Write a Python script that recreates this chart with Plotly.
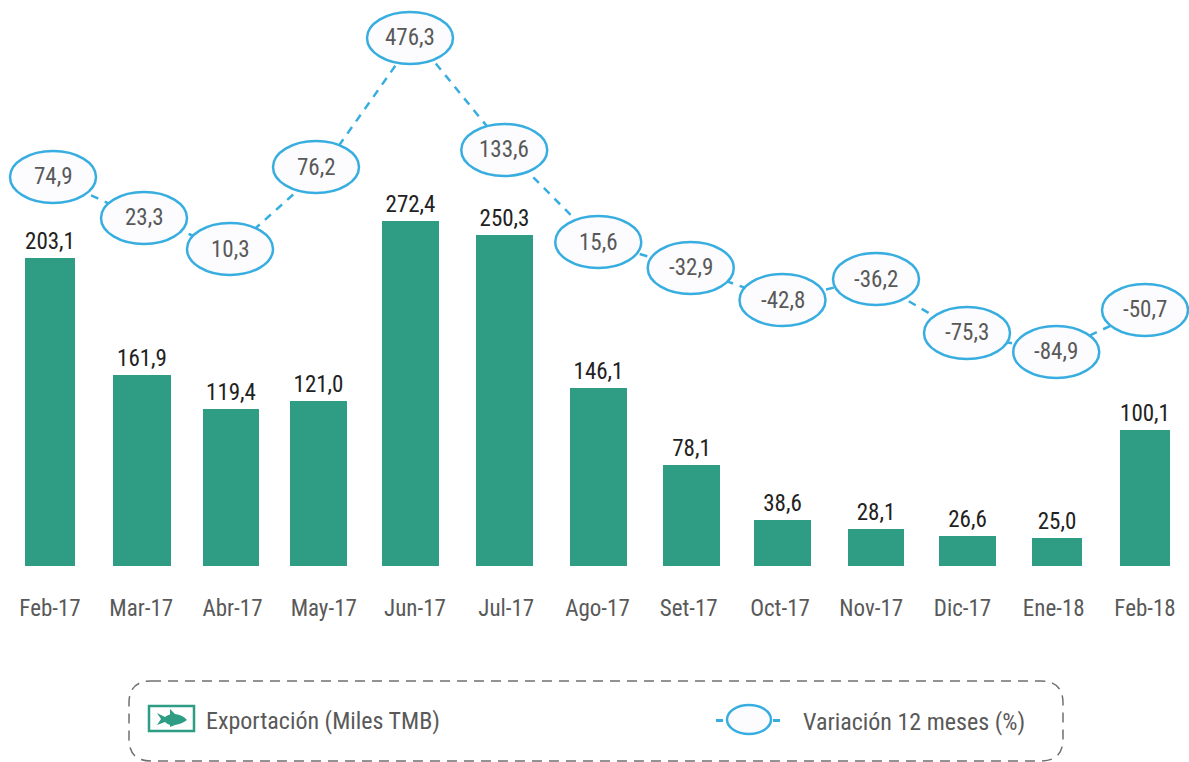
import plotly.graph_objects as go

# Chart data as printed in the picture
categories = ["Feb-17", "Mar-17", "Abr-17", "May-17", "Jun-17", "Jul-17", "Ago-17",
              "Set-17", "Oct-17", "Nov-17", "Dic-17", "Ene-18", "Feb-18"]
export_labels = ["203,1", "161,9", "119,4", "121,0", "272,4", "250,3", "146,1",
                 "78,1", "38,6", "28,1", "26,6", "25,0", "100,1"]
variation_labels = ["74,9", "23,3", "10,3", "76,2", "476,3", "133,6", "15,6",
                    "-32,9", "-42,8", "-36,2", "-75,3", "-84,9", "-50,7"]
# Heights and levels as actually drawn in the picture (the source is not to scale)
export_drawn = [242.5, 150.4, 123.6, 129.9, 271.7, 260.6, 140.2, 79.5, 36.2, 29.1, 23.6, 22.0, 107.1]
variation_drawn = [227.7, 154.5, 99.1, 245.5, 475.9, 275.9, 111.6, 65.2, 8.0, 45.5, -50.9, -84.8, -9.8]

# Styling
W, H = 1189, 762
BASE = 566
PITCH = 91.25
FONT = "Roboto Condensed, Noto Sans Condensed, Open Sans Condensed, Roboto, sans-serif"
GREEN = "#2f9d83"
BLUE = "#38aee0"
GREY = "#595959"
bar_width_px = [50, 58, 56, 57, 57, 57, 57, 57, 57, 56, 57, 50, 50]
bar_nudge_px = [0, 0.75, -1.5, -5.25, -4.5, -1.75, 1, 2.75, 2.5, 4.75, 5, 3.5, -0.0]
oval_nudge_px = [3, 2.75, -2.5, -7.75, -5, -2, 0.75, 2, 2.5, 4.75, 4.5, 2.5, -0.0]
RX, RY = 43, 26

fx = lambda v: v / W
fy = lambda v: 1 - v / H

fig = go.Figure()
fig.add_trace(go.Bar(
    x=categories, y=export_drawn,
    width=[w / PITCH for w in bar_width_px],
    offset=[(nudge - w / 2) / PITCH for w, nudge in zip(bar_width_px, bar_nudge_px)],
    marker=dict(color=GREEN, line=dict(width=0)),
    text=export_labels, textposition="outside", cliponaxis=False,
    textfont=dict(family=FONT, size=23, color="#222222"),
    showlegend=False, hoverinfo="skip",
))
fig.add_trace(go.Scatter(
    x=categories, y=variation_drawn, yaxis="y2", mode="lines",
    line=dict(color=BLUE, width=2.5, dash="8px,7px"),
    showlegend=False, hoverinfo="skip",
))

shapes, annotations = [], []
for cat, lev, lab, nudge in zip(categories, variation_drawn, variation_labels, oval_nudge_px):
    shapes.append(dict(
        type="circle", xref="x", yref="y2", xsizemode="pixel", ysizemode="pixel",
        xanchor=cat, yanchor=lev, x0=nudge - RX, x1=nudge + RX, y0=-RY, y1=RY,
        line=dict(color=BLUE, width=2.5), fillcolor="#fcfcfe", layer="above",
    ))
    annotations.append(dict(
        x=cat, y=lev, xref="x", yref="y2", text=lab, showarrow=False, xshift=nudge,
        font=dict(family=FONT, size=23, color=GREY),
    ))

# Legend frame (rounded dashed box)
x0, x1, y0, y1 = 129, 1063, 681, 761
r = 22
frame = (f"M{fx(x0 + r)},{fy(y0)} L{fx(x1 - r)},{fy(y0)} Q{fx(x1)},{fy(y0)} {fx(x1)},{fy(y0 + r)} "
         f"L{fx(x1)},{fy(y1 - r)} Q{fx(x1)},{fy(y1)} {fx(x1 - r)},{fy(y1)} "
         f"L{fx(x0 + r)},{fy(y1)} Q{fx(x0)},{fy(y1)} {fx(x0)},{fy(y1 - r)} "
         f"L{fx(x0)},{fy(y0 + r)} Q{fx(x0)},{fy(y0)} {fx(x0 + r)},{fy(y0)}")
shapes.append(dict(type="path", xref="paper", yref="paper", path=frame,
                   line=dict(color="#707070", width=1.5, dash="10px,7px")))

# Legend: fish icon
shapes.append(dict(type="rect", xref="paper", yref="paper",
                   x0=fx(149), x1=fx(194), y0=fy(731), y1=fy(706),
                   line=dict(color=GREEN, width=2.5), fillcolor="white"))
def P(x, y):
    return f"{fx(x):.5f},{fy(y):.5f}"
fish = (f"M{P(157, 713)} L{P(165, 717)} Q{P(167, 715)} {P(170, 714.5)} L{P(170, 709)} L{P(175, 714)} "
        f"Q{P(183, 715)} {P(187, 720)} Q{P(182, 724)} {P(175, 725)} L{P(170, 727)} L{P(170, 725)} "
        f"Q{P(167, 724)} {P(165, 722)} L{P(157, 725)} L{P(161, 719)} Z")
shapes.append(dict(type="path", xref="paper", yref="paper", path=fish,
                   line=dict(width=0), fillcolor=GREEN))

# Legend: oval symbol
shapes.append(dict(type="circle", xref="paper", yref="paper",
                   x0=fx(727), x1=fx(771), y0=fy(734), y1=fy(705),
                   line=dict(color=BLUE, width=2.5), fillcolor="#fcfcfe"))
for a, b in [(716, 723), (773, 780)]:
    shapes.append(dict(type="line", xref="paper", yref="paper",
                       x0=fx(a), x1=fx(b), y0=fy(720.5), y1=fy(720.5),
                       line=dict(color=BLUE, width=3)))

for text, left, ypix in [("Exportación (Miles TMB)", 204, 721), ("Variación 12 meses (%)", 801, 722)]:
    annotations.append(dict(x=fx(left), y=fy(ypix), xref="paper", yref="paper", text=text,
                            xanchor="left", yanchor="middle", showarrow=False,
                            font=dict(family=FONT, size=24, color=GREY)))

fig.update_layout(
    width=W, height=H, margin=dict(l=0, r=0, t=0, b=0, pad=0),
    paper_bgcolor="white", plot_bgcolor="white", bargap=0,
    xaxis=dict(type="category", categoryorder="array", categoryarray=categories,
               range=[-50 / PITCH, (W - 50) / PITCH], showgrid=False, zeroline=False, showline=False,
               ticks="", ticklabelstandoff=26, tickfont=dict(family=FONT, size=23, color=GREY)),
    yaxis=dict(domain=[1 - BASE / H, 1], range=[0, BASE / 1.27], visible=False),
    yaxis2=dict(domain=[1 - BASE / H, 1], range=[-467, 543.75], overlaying="y", visible=False),
    shapes=shapes, annotations=annotations,
)
fig.write_html("out.html", config=dict(displayModeBar=False),
               post_script="document.body.style.margin='0';document.body.style.overflow='hidden';"
                           "var s=document.createElement('style');s.textContent='svg text{font-stretch:75%}';"
                           "document.head.appendChild(s);")
